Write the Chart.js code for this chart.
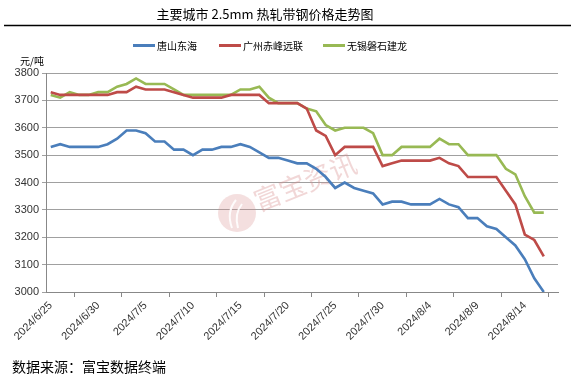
<!DOCTYPE html>
<html>
<head>
<meta charset="utf-8">
<script src="https://cdn.jsdelivr.net/npm/chart.js@4"></script>
<style>
  body { margin: 0; background: #fff; }
  #wrap { width: 571px; height: 386px; }
</style>
</head>
<body>
<div id="wrap"><canvas id="myChart" width="571" height="386"></canvas></div>
<script>
var titleText = '主要城市 2.5mm 热轧带钢价格走势图';
var unitText = '元/吨';
var sourceText = '数据来源：富宝数据终端';
var seriesNames = ['唐山东海', '广州赤峰远联', '无锡磐石建龙'];

var dates = [
    '2024/6/25', '2024/6/26', '2024/6/27', '2024/6/28', '2024/6/29', '2024/6/30',
    '2024/7/1', '2024/7/2', '2024/7/3', '2024/7/4', '2024/7/5', '2024/7/6', '2024/7/7',
    '2024/7/8', '2024/7/9', '2024/7/10', '2024/7/11', '2024/7/12', '2024/7/13', '2024/7/14',
    '2024/7/15', '2024/7/16', '2024/7/17', '2024/7/18', '2024/7/19', '2024/7/20', '2024/7/21',
    '2024/7/22', '2024/7/23', '2024/7/24', '2024/7/25', '2024/7/26', '2024/7/27', '2024/7/28',
    '2024/7/29', '2024/7/30', '2024/7/31', '2024/8/1', '2024/8/2', '2024/8/3', '2024/8/4',
    '2024/8/5', '2024/8/6', '2024/8/7', '2024/8/8', '2024/8/9', '2024/8/10', '2024/8/11',
    '2024/8/12', '2024/8/13', '2024/8/14', '2024/8/15', '2024/8/16', '2024/8/17'
];

var tangshan = [
    3530, 3540, 3530, 3530, 3530, 3530, 3540, 3560, 3590, 3590,
    3580, 3550, 3550, 3520, 3520, 3500, 3520, 3520, 3530, 3530,
    3540, 3530, 3510, 3490, 3490, 3480, 3470, 3470, 3450, 3420,
    3380, 3400, 3380, 3370, 3360, 3320, 3330, 3330, 3320, 3320,
    3320, 3340, 3320, 3310, 3270, 3270, 3240, 3230, 3200, 3170,
    3120, 3050, 3000
];
var guangzhou = [
    3730, 3720, 3720, 3720, 3720, 3720, 3720, 3730, 3730, 3750,
    3740, 3740, 3740, 3730, 3720, 3710, 3710, 3710, 3710, 3720,
    3720, 3720, 3720, 3690, 3690, 3690, 3690, 3670, 3590, 3570,
    3500, 3530, 3530, 3530, 3530, 3460, 3470, 3480, 3480, 3480,
    3480, 3490, 3470, 3460, 3420, 3420, 3420, 3420, 3370, 3320,
    3210, 3190, 3130
];
var wuxi = [
    3720, 3710, 3730, 3720, 3720, 3730, 3730, 3750, 3760, 3780,
    3760, 3760, 3760, 3740, 3720, 3720, 3720, 3720, 3720, 3720,
    3740, 3740, 3750, 3710, 3690, 3690, 3690, 3670, 3660, 3610,
    3590, 3600, 3600, 3600, 3580, 3500, 3500, 3530, 3530, 3530,
    3530, 3560, 3540, 3540, 3500, 3500, 3500, 3500, 3450, 3430,
    3350, 3290, 3290
];
var colors = ['#4a7ebb', '#be4b48', '#98b954'];

// title, legend, unit, source and watermark drawn on top of the chart
var overlay = {
    id: 'overlay',
    beforeDatasetsDraw: function (chart) {
        var c = chart.ctx;
        c.save();
        c.fillStyle = 'rgba(214, 140, 140, 0.28)';
        c.beginPath();
        c.arc(237, 213, 19, 0, Math.PI * 2);
        c.fill();
        c.strokeStyle = 'rgba(255,255,255,0.9)';
        c.lineWidth = 2;
        c.beginPath();
        c.moveTo(232, 228); c.quadraticCurveTo(226, 212, 236, 200);
        c.moveTo(238, 228); c.quadraticCurveTo(234, 214, 242, 204);
        c.stroke();
        c.translate(305, 182);
        c.rotate(-22 * Math.PI / 180);
        c.font = '27px "Noto Sans CJK SC"';
        c.fillStyle = 'rgba(214, 140, 140, 0.35)';
        c.textAlign = 'center';
        c.textBaseline = 'middle';
        c.fillText('富宝资讯', 0, 0);
        c.restore();
    },
    afterDraw: function (chart) {
        var c = chart.ctx;
        c.save();
        c.fillStyle = '#000';
        c.textBaseline = 'middle';
        c.textAlign = 'center';
        c.font = '13px "Noto Sans CJK SC"';
        c.fillText(titleText, 265, 14);
        c.strokeStyle = '#000';
        c.lineWidth = 1.5;
        c.beginPath();
        c.moveTo(4, 25.5);
        c.lineTo(571, 25.5);
        c.stroke();

        var lx = [133, 219, 323];
        c.textAlign = 'left';
        c.font = '10px "Noto Sans CJK SC"';
        chart.data.datasets.forEach(function (ds, i) {
            c.strokeStyle = ds.borderColor;
            c.lineWidth = 3;
            c.beginPath();
            c.moveTo(lx[i], 45.5);
            c.lineTo(lx[i] + 22, 45.5);
            c.stroke();
            c.fillStyle = '#000';
            c.fillText(ds.label, lx[i] + 24, 46);
        });

        c.font = '10px "Noto Sans CJK SC"';
        c.fillText(unitText, 20, 61);
        c.font = '14px "Noto Sans CJK SC"';
        c.fillText(sourceText, 12, 367);
        c.restore();
    }
};

var ctx = document.getElementById('myChart');
var myChart = new Chart(ctx, {
    type: 'line',
    data: {
        labels: dates,
        datasets: [
            { label: seriesNames[0], data: tangshan, borderColor: colors[0] },
            { label: seriesNames[1], data: guangzhou, borderColor: colors[1] },
            { label: seriesNames[2], data: wuxi, borderColor: colors[2] }
        ]
    },
    options: {
        responsive: false,
        animation: false,
        layout: { padding: { top: 73, left: 0, right: 13, bottom: 0 } },
        elements: {
            line: { borderWidth: 2.6, tension: 0 },
            point: { radius: 0 }
        },
        plugins: {
            legend: { display: false },
            tooltip: { enabled: false }
        },
        scales: {
            x: {
                offset: true,
                grid: { offset: true, drawOnChartArea: false, tickLength: 5, color: '#888' },
                border: { color: '#888' },
                ticks: {
                    autoSkip: false,
                    minRotation: 45,
                    maxRotation: 45,
                    padding: 2,
                    color: '#333',
                    font: { family: 'Liberation Sans', size: 11 },
                    callback: function (value, index) {
                        return index % 5 === 0 ? this.getLabelForValue(value) : null;
                    }
                },
                afterFit: function (scale) { scale.height = 94; }
            },
            y: {
                min: 3000,
                max: 3800,
                grid: { color: '#a0a0a0', tickLength: 4 },
                border: { color: '#888' },
                ticks: {
                    stepSize: 100,
                    padding: 3,
                    color: '#333',
                    font: { family: 'Liberation Sans', size: 11 },
                    callback: function (value) { return String(value); }
                },
                afterFit: function (scale) { scale.width = 46; }
            }
        }
    },
    plugins: [overlay]
});
</script>
</body>
</html>
